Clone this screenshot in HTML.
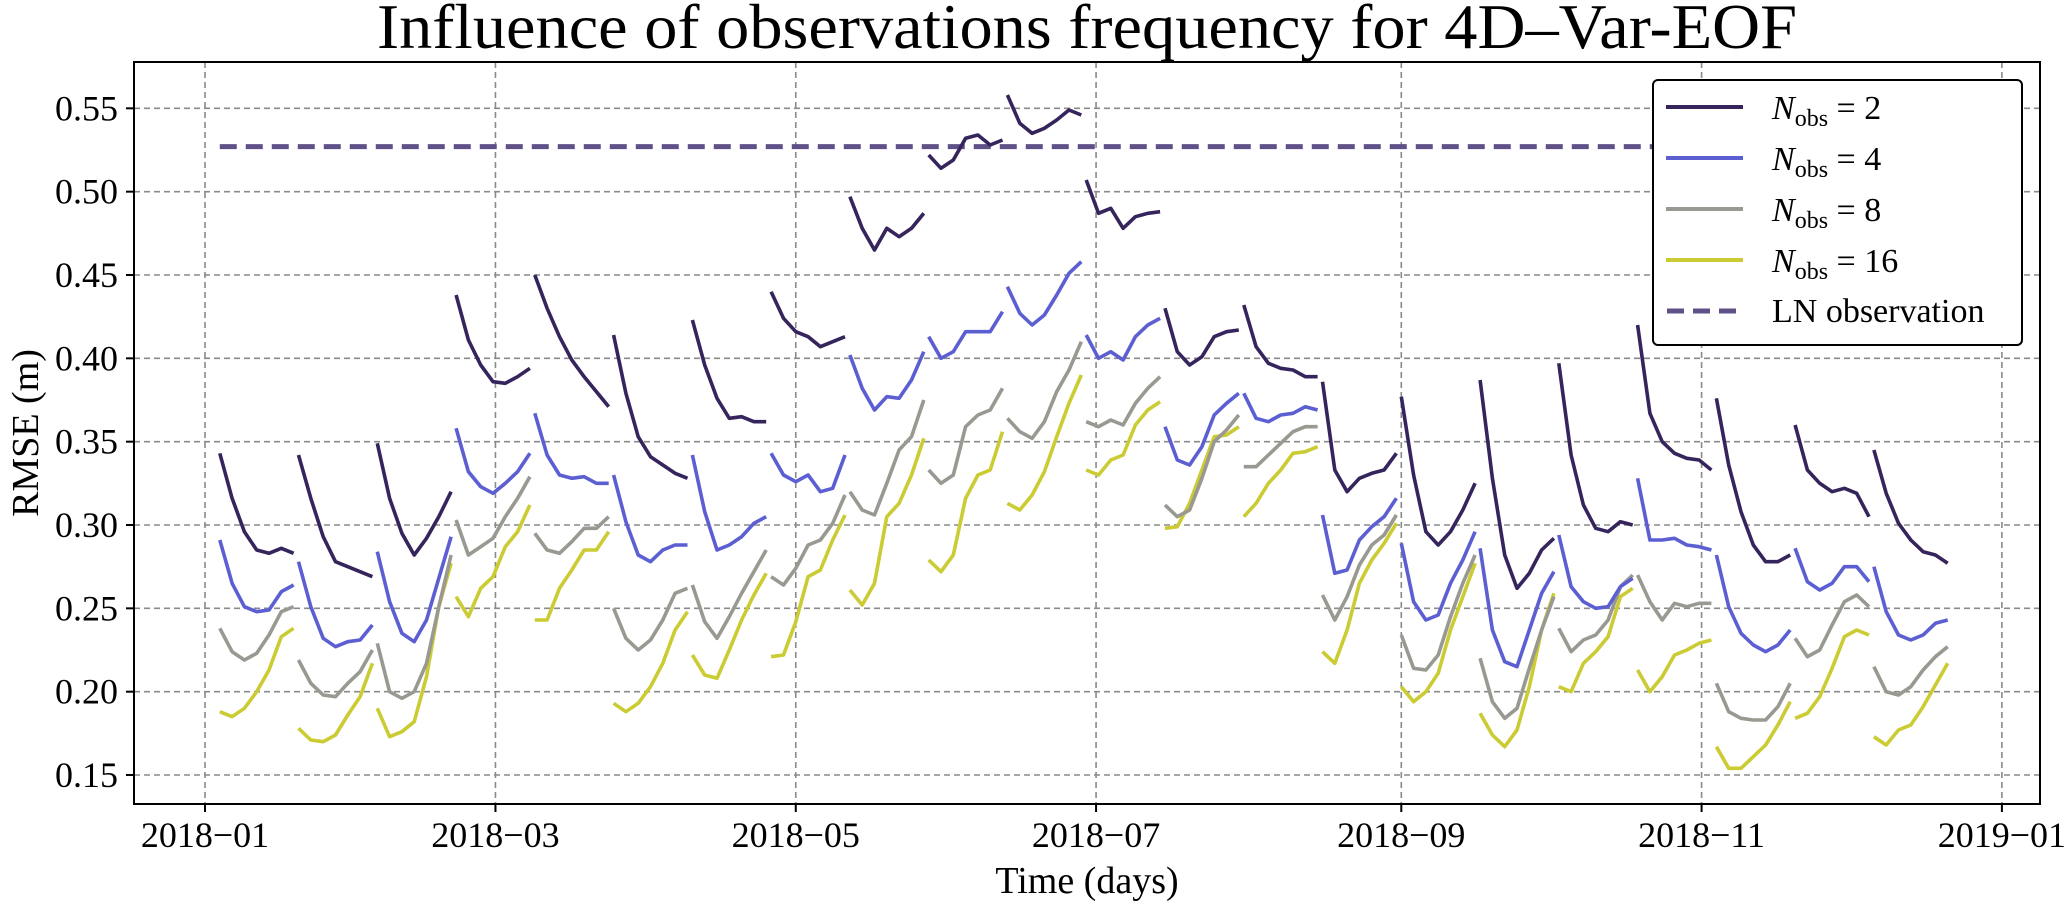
<!DOCTYPE html>
<html><head><meta charset="utf-8"><style>
html,body{margin:0;padding:0;background:#fff}
svg{display:block;font-family:"Liberation Serif",serif}
</style></head><body>
<svg id="chart" width="2067" height="907" viewBox="0 0 2067 907">
<text x="1087" y="48" font-size="64" text-anchor="middle" textLength="1420" lengthAdjust="spacingAndGlyphs">Influence of observations frequency for 4D–Var-EOF</text>
<g id="grid"></g>
<g id="series"></g>
<rect x="134" y="62" width="1906" height="742" fill="none" stroke="#000" stroke-width="2"/>
<g id="axes"></g>
<text x="1087" y="893" font-size="38" text-anchor="middle">Time (days)</text>
<text x="0" y="0" font-size="38" text-anchor="middle" transform="translate(38,433) rotate(-90)">RMSE (m)</text>
<g>
<rect x="1653" y="80" width="369" height="265" rx="5" fill="#fff" stroke="#000" stroke-width="2"/>
<line x1="1666" y1="107" x2="1743" y2="107" stroke="#36245c" stroke-width="4"/>
<text x="1772" y="119" font-size="34"><tspan font-style="italic">N</tspan><tspan font-size="24" dy="7">obs</tspan><tspan dy="-7"> = 2</tspan></text>
<line x1="1666" y1="158" x2="1743" y2="158" stroke="#5b5fd2" stroke-width="4"/>
<text x="1772" y="170" font-size="34"><tspan font-style="italic">N</tspan><tspan font-size="24" dy="7">obs</tspan><tspan dy="-7"> = 4</tspan></text>
<line x1="1666" y1="209" x2="1743" y2="209" stroke="#999992" stroke-width="4"/>
<text x="1772" y="221" font-size="34"><tspan font-style="italic">N</tspan><tspan font-size="24" dy="7">obs</tspan><tspan dy="-7"> = 8</tspan></text>
<line x1="1666" y1="260" x2="1743" y2="260" stroke="#cbcb34" stroke-width="4"/>
<text x="1772" y="272" font-size="34"><tspan font-style="italic">N</tspan><tspan font-size="24" dy="7">obs</tspan><tspan dy="-7"> = 16</tspan></text>
<line x1="1667" y1="311" x2="1743" y2="311" stroke="#5f5088" stroke-width="5" stroke-dasharray="17,9"/>
<text x="1772" y="322" font-size="34">LN observation</text>
</g>
</svg>
<script>
const yTicks = [0.15,0.20,0.25,0.30,0.35,0.40,0.45,0.50,0.55];
const xTickLabels = ["2018−01","2018−03","2018−05","2018−07","2018−09","2018−11","2019−01"];
const xTickDays = [0,59,120,181,243,304,365];
const windowStarts = [3,19,35,51,67,83,99,115,131,147,163,179,195,211,227,243,259,275,291,307,323,339];
const stepDays = [0,2.5,5,7.5,10,12.5,15];
const lnValue = 0.527;
const lnStartDay = 3;
const lnEndDay = 355;
const n2 = [
[0.343,0.316,0.296,0.285,0.283,0.286,0.283],[0.342,0.316,0.293,0.278,0.275,0.272,0.269],
[0.349,0.316,0.295,0.282,0.292,0.305,0.32],[0.438,0.411,0.396,0.386,0.385,0.389,0.394],
[0.45,0.43,0.413,0.399,0.389,0.38,0.371],[0.414,0.379,0.353,0.341,0.336,0.331,0.328],
[0.423,0.396,0.376,0.364,0.365,0.362,0.362],[0.44,0.424,0.416,0.413,0.407,0.41,0.413],
[0.497,0.478,0.465,0.478,0.473,0.478,0.487],[0.522,0.514,0.519,0.532,0.534,0.528,0.531],
[0.558,0.541,0.535,0.538,0.543,0.549,0.546],[0.507,0.487,0.49,0.478,0.485,0.487,0.488],
[0.43,0.404,0.396,0.401,0.413,0.416,0.417],[0.432,0.407,0.397,0.394,0.393,0.389,0.389],
[0.386,0.333,0.32,0.328,0.331,0.333,0.343],[0.377,0.33,0.296,0.288,0.296,0.309,0.325],
[0.387,0.328,0.282,0.262,0.271,0.285,0.292],[0.397,0.342,0.312,0.298,0.296,0.302,0.3],
[0.42,0.367,0.35,0.343,0.34,0.339,0.333],[0.376,0.336,0.308,0.288,0.278,0.278,0.282],
[0.36,0.333,0.325,0.32,0.322,0.319,0.305],[0.345,0.319,0.301,0.291,0.284,0.282,0.277]];
const n4 = [
[0.291,0.265,0.251,0.248,0.249,0.26,0.264],[0.278,0.251,0.232,0.227,0.23,0.231,0.24],
[0.284,0.254,0.235,0.23,0.243,0.268,0.293],[0.358,0.332,0.323,0.319,0.325,0.332,0.343],
[0.367,0.342,0.33,0.328,0.329,0.325,0.325],[0.33,0.302,0.282,0.278,0.285,0.288,0.288],
[0.342,0.308,0.285,0.288,0.293,0.301,0.305],[0.343,0.33,0.326,0.33,0.32,0.322,0.342],
[0.402,0.382,0.369,0.377,0.376,0.387,0.404],[0.413,0.4,0.404,0.416,0.416,0.416,0.428],
[0.443,0.427,0.42,0.426,0.438,0.451,0.458],[0.414,0.4,0.404,0.399,0.413,0.42,0.424],
[0.359,0.339,0.336,0.347,0.366,0.373,0.379],[0.379,0.364,0.362,0.366,0.367,0.371,0.369],
[0.306,0.271,0.273,0.291,0.299,0.305,0.316],[0.289,0.254,0.243,0.246,0.265,0.279,0.296],
[0.286,0.237,0.218,0.215,0.237,0.259,0.272],[0.294,0.263,0.254,0.25,0.251,0.263,0.268],
[0.328,0.291,0.291,0.292,0.288,0.287,0.285],[0.282,0.251,0.235,0.228,0.224,0.228,0.237],
[0.286,0.266,0.261,0.265,0.275,0.275,0.266],[0.275,0.248,0.234,0.231,0.234,0.241,0.243]];
const n8 = [
[0.238,0.224,0.219,0.223,0.234,0.248,0.251],[0.219,0.205,0.198,0.197,0.205,0.212,0.225],
[0.229,0.2,0.196,0.2,0.217,0.251,0.282],[0.303,0.282,0.287,0.292,0.305,0.316,0.329],
[0.295,0.285,0.283,0.29,0.298,0.298,0.305],[0.25,0.232,0.225,0.231,0.243,0.259,0.262],
[0.264,0.242,0.232,0.245,0.259,0.272,0.285],[0.269,0.264,0.274,0.288,0.291,0.301,0.318],
[0.32,0.309,0.306,0.325,0.345,0.353,0.375],[0.333,0.325,0.33,0.359,0.366,0.369,0.382],
[0.364,0.356,0.352,0.362,0.38,0.393,0.41],[0.362,0.359,0.363,0.36,0.373,0.382,0.389],
[0.312,0.305,0.309,0.328,0.35,0.357,0.366],[0.335,0.335,0.342,0.349,0.356,0.359,0.359],
[0.258,0.243,0.257,0.276,0.288,0.294,0.306],[0.234,0.214,0.213,0.222,0.245,0.265,0.282],
[0.22,0.194,0.184,0.19,0.214,0.237,0.257],[0.238,0.224,0.231,0.234,0.243,0.263,0.27],
[0.27,0.254,0.243,0.253,0.251,0.253,0.253],[0.205,0.188,0.184,0.183,0.183,0.191,0.205],
[0.232,0.221,0.225,0.24,0.254,0.258,0.251],[0.215,0.2,0.198,0.203,0.213,0.221,0.227]];
const n16 = [
[0.188,0.185,0.19,0.2,0.213,0.233,0.238],[0.178,0.171,0.17,0.174,0.186,0.197,0.217],
[0.19,0.173,0.176,0.182,0.209,0.251,0.277],[0.257,0.245,0.262,0.269,0.287,0.296,0.312],
[0.243,0.243,0.262,0.273,0.285,0.285,0.296],[0.193,0.188,0.193,0.203,0.217,0.237,0.248],
[0.222,0.21,0.208,0.225,0.243,0.258,0.271],[0.221,0.222,0.242,0.269,0.273,0.291,0.306],
[0.261,0.252,0.265,0.305,0.313,0.33,0.352],[0.279,0.272,0.282,0.316,0.33,0.333,0.356],
[0.313,0.309,0.318,0.332,0.353,0.373,0.39],[0.333,0.33,0.339,0.342,0.36,0.369,0.374],
[0.298,0.299,0.313,0.333,0.353,0.354,0.359],[0.305,0.313,0.325,0.333,0.343,0.344,0.347],
[0.224,0.217,0.237,0.265,0.279,0.289,0.301],[0.203,0.194,0.2,0.211,0.237,0.257,0.277],
[0.187,0.174,0.167,0.177,0.203,0.237,0.259],[0.203,0.2,0.217,0.224,0.233,0.257,0.262],
[0.213,0.2,0.209,0.222,0.225,0.229,0.231],[0.167,0.154,0.154,0.161,0.168,0.18,0.194],
[0.184,0.187,0.197,0.214,0.233,0.237,0.234],[0.173,0.168,0.177,0.18,0.191,0.204,0.217]];

const NS = "http://www.w3.org/2000/svg";
const X0 = 205, PXD = 4.923, Y0 = 275, PXV = 1666.7;
function xs(d){ return X0 + d*PXD; }
function ys(v){ return Y0 - (v-0.45)*PXV; }
function mk(tag, attrs, parent){
  const el = document.createElementNS(NS, tag);
  for (const k in attrs) el.setAttribute(k, attrs[k]);
  parent.appendChild(el); return el;
}
const grid = document.getElementById('grid');
const axes = document.getElementById('axes');
yTicks.forEach(v => {
  const y = ys(v);
  const gl = mk('line', {x1:134, x2:2040, y1:y, y2:y, stroke:'#8a8a8a', 'stroke-width':1.6, 'stroke-dasharray':'6,4'}, grid);
  
  
  const tk = mk('line', {x1:126, x2:134, y1:y, y2:y, stroke:'#000', 'stroke-width':2}, axes);
  
  
  const t = mk('text', {x:118, y:y+12, 'font-size':36, 'text-anchor':'end'}, axes);
  t.textContent = v.toFixed(2);
  
  
});
xTickDays.forEach((d,i) => {
  const x = xs(d);
  const gl = mk('line', {x1:x, x2:x, y1:62, y2:804, stroke:'#8a8a8a', 'stroke-width':1.6, 'stroke-dasharray':'6,4'}, grid);
  
  
  const tk = mk('line', {x1:x, x2:x, y1:804, y2:812, stroke:'#000', 'stroke-width':2}, axes);
  
  
  const t = mk('text', {x:x, y:847, 'font-size':36, 'text-anchor':'middle'}, axes);
  t.textContent = xTickLabels[i];
  
  
});
const layer = document.getElementById('series');
const ln = mk('line', {x1:xs(lnStartDay), x2:xs(lnEndDay), y1:ys(lnValue), y2:ys(lnValue), stroke:'#5f5088', 'stroke-width':5, 'stroke-dasharray':'17,9'}, layer);


const seriesList = [[n16,'#cbcb34','n16'],[n8,'#999992','n8'],[n4,'#5b5fd2','n4'],[n2,'#36245c','n2']];
seriesList.forEach(([data,color,name]) => {
  data.forEach((seg,k) => {
    const pts = seg.map((v,j) => xs(windowStarts[k]+stepDays[j]).toFixed(1)+','+ys(v).toFixed(1)).join(' ');
    const pl = mk('polyline', {points:pts, fill:'none', stroke:color, 'stroke-width':3.6, 'stroke-linejoin':'round'}, layer);
    
    
  });
});
</script>
</body></html>
